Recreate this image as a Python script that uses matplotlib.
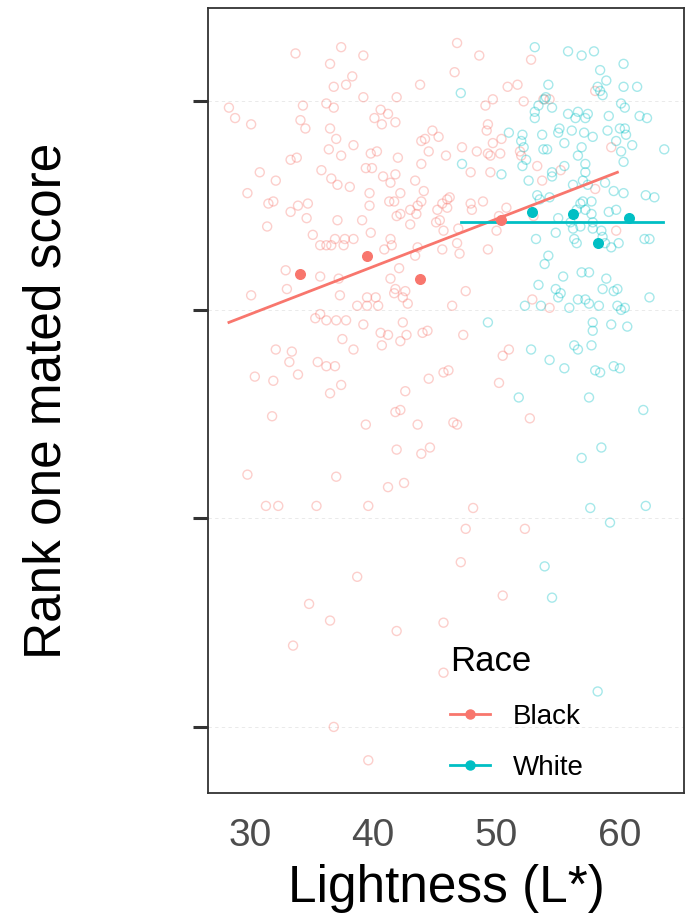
import matplotlib
matplotlib.use("Agg")
import matplotlib.pyplot as plt
from matplotlib.lines import Line2D

plt.rcParams['font.family'] = ['Liberation Sans', 'DejaVu Sans']

PINK = "#F8766D"
TEAL = "#00BFC4"

# individual subjects: lightness vs rank one mated score
black_x = [33.7, 37.4, 39.2, 36.5, 38.3, 37.8, 36.8, 43.8, 39.2, 41.9,
           28.3, 28.8, 30.1, 34.3, 36.2, 36.8, 40.6, 41.2, 40.1, 40.7,
           41.8, 34.1, 34.5, 36.5, 37.0, 36.4, 38.4, 37.4, 44.8, 45.3,
           43.9, 44.2, 44.5, 45.9, 39.8, 40.3, 42.0, 33.3, 33.8, 30.8,
           32.1, 29.8, 35.8, 39.4, 39.9, 36.6, 37.1, 38.1, 40.8, 41.8,
           41.4, 43.9, 43.4, 44.1, 39.7, 42.2, 31.5, 31.9, 33.3, 33.9,
           34.7, 34.6, 31.4, 39.7, 41.3, 41.7, 43.9, 43.6, 43.0, 41.9,
           42.2, 43.5, 43.0, 37.1, 39.1, 45.2, 45.6, 46.0, 46.0, 45.4,
           45.1, 35.1, 35.7, 36.2, 36.6, 36.9, 37.7, 37.6, 38.4, 39.8,
           41.4, 41.5, 40.9, 43.6, 43.4, 45.6, 32.9, 35.7, 42.1, 41.4,
           37.2,
           46.8, 48.6, 52.8, 46.6, 50.9, 51.7, 49.7, 49.1, 52.2, 53.8,
           54.3, 58.0, 49.3, 49.2, 49.7, 50.4, 47.2, 48.4, 49.3, 49.5,
           50.3, 51.9, 52.0, 47.9, 49.5, 53.3, 53.7, 55.2, 58.0, 59.3,
           46.2, 47.9, 48.0, 48.9, 50.8, 50.2, 50.0, 46.9, 47.0, 46.8,
           49.3, 53.0, 59.7, 45.7,
           30.1, 33.0, 37.3, 38.7, 39.5, 39.5, 40.2, 40.4, 41.7, 41.8,
           42.6, 42.4, 42.8, 35.3, 35.7, 36.2, 37.0, 37.8, 39.2, 42.4,
           40.6, 41.2, 40.7, 42.2, 42.7, 44.0, 44.4, 37.5, 38.4, 32.1,
           33.4, 33.2, 35.5, 36.2, 36.9, 30.4, 31.9, 33.9, 37.4, 36.5,
           42.6, 44.5, 45.7, 46.1, 31.8, 39.4, 41.8, 42.2, 43.6, 41.9,
           43.9, 44.6, 29.8, 37.0, 41.2, 42.5, 31.3, 32.3, 35.4, 39.6,
           38.7,
           47.5, 46.4, 52.9, 54.3, 47.3, 50.5, 51.0, 50.2, 46.5, 46.8,
           52.7, 48.1, 47.5, 52.3, 47.1,
           34.8, 36.5, 41.9, 45.7, 50.5, 33.5, 45.7, 36.8, 39.6]
black_y = [0.923, 0.926, 0.922, 0.918, 0.912, 0.908, 0.907, 0.908, 0.902, 0.902,
           0.897, 0.892, 0.889, 0.898, 0.899, 0.897, 0.896, 0.894, 0.892, 0.889,
           0.890, 0.891, 0.887, 0.887, 0.882, 0.877, 0.879, 0.874, 0.886, 0.883,
           0.881, 0.882, 0.876, 0.874, 0.875, 0.876, 0.873, 0.872, 0.873, 0.866,
           0.862, 0.856, 0.867, 0.868, 0.868, 0.863, 0.860, 0.859, 0.864, 0.865,
           0.861, 0.870, 0.862, 0.857, 0.856, 0.856, 0.851, 0.852, 0.847, 0.850,
           0.851, 0.844, 0.840, 0.850, 0.852, 0.852, 0.852, 0.850, 0.848, 0.845,
           0.846, 0.846, 0.841, 0.843, 0.843, 0.848, 0.851, 0.853, 0.849, 0.843,
           0.842, 0.836, 0.831, 0.831, 0.831, 0.834, 0.834, 0.831, 0.834, 0.837,
           0.834, 0.831, 0.829, 0.830, 0.826, 0.829, 0.819, 0.816, 0.820, 0.815,
           0.815,
           0.928, 0.922, 0.920, 0.914, 0.907, 0.908, 0.901, 0.898, 0.900, 0.901,
           0.901, 0.905, 0.889, 0.886, 0.880, 0.882, 0.878, 0.876, 0.875, 0.874,
           0.875, 0.876, 0.874, 0.866, 0.866, 0.869, 0.862, 0.867, 0.858, 0.878,
           0.854, 0.851, 0.848, 0.852, 0.849, 0.845, 0.838, 0.839, 0.827, 0.832,
           0.829, 0.845, 0.838, 0.838,
           0.807, 0.810, 0.807, 0.802, 0.802, 0.806, 0.806, 0.802, 0.808, 0.810,
           0.809, 0.806, 0.803, 0.796, 0.798, 0.795, 0.795, 0.795, 0.793, 0.794,
           0.789, 0.788, 0.783, 0.785, 0.788, 0.789, 0.790, 0.786, 0.781, 0.781,
           0.780, 0.775, 0.775, 0.773, 0.773, 0.768, 0.766, 0.769, 0.764, 0.760,
           0.761, 0.767, 0.770, 0.771, 0.749, 0.745, 0.751, 0.752, 0.745, 0.733,
           0.731, 0.734, 0.721, 0.720, 0.715, 0.717, 0.706, 0.706, 0.706, 0.706,
           0.672,
           0.809, 0.802, 0.805, 0.801, 0.788, 0.778, 0.781, 0.765, 0.746, 0.745,
           0.748, 0.705, 0.695, 0.695, 0.679,
           0.659, 0.651, 0.646, 0.650, 0.663, 0.639, 0.626, 0.600, 0.584]

white_x = [53.1, 55.8, 56.9, 57.9, 58.4, 60.3, 58.9, 54.2, 58.2, 58.4,
           58.6, 60.3, 61.4, 47.1, 54.0, 53.9, 53.4, 53.1, 54.5, 53.1,
           55.8, 56.6, 56.4, 57.2, 57.4, 59.1, 60.1, 60.4, 61.6, 62.2,
           55.1, 55.0, 56.1, 57.1, 57.8, 59.0, 60.0, 60.4, 60.5, 51.0,
           52.1, 52.0, 52.2, 53.7, 55.5, 53.8, 54.1, 56.9, 56.6, 57.2,
           59.7, 60.1, 61.0, 60.3, 63.6, 47.2, 50.4, 52.4, 52.1, 52.6,
           54.5, 54.5, 55.5, 56.2, 57.2, 57.0, 57.4, 58.8, 59.5, 60.3,
           62.1, 62.8, 53.3, 53.5, 54.3, 56.8, 57.0, 57.7, 56.5, 57.2,
           57.7, 59.1, 59.7, 55.0, 56.0, 56.2, 56.8, 57.8, 57.8, 58.5,
           58.6, 53.2, 54.8, 56.3, 56.5, 58.8, 59.3, 59.9, 62.0, 62.4,
           54.2, 53.9, 55.4, 56.9, 57.5, 58.9,
           53.4, 54.8, 55.2, 55.0, 58.6, 59.5, 59.8, 62.4, 52.3, 53.6,
           55.9, 56.6, 57.2, 57.5, 58.3, 59.8, 60.1, 60.4, 49.3, 57.8,
           57.8, 59.3, 60.6, 52.8, 56.3, 56.6, 57.7, 54.3, 55.5, 58.0,
           58.4, 59.5, 60.0, 51.8, 57.5, 61.9, 58.5, 56.9, 57.6, 62.1,
           59.2, 53.9,
           54.5, 58.2]
white_y = [0.926, 0.924, 0.922, 0.924, 0.915, 0.918, 0.910, 0.908, 0.907, 0.905,
           0.903, 0.907, 0.907, 0.904, 0.902, 0.901, 0.898, 0.895, 0.897, 0.892,
           0.894, 0.895, 0.892, 0.892, 0.894, 0.893, 0.899, 0.897, 0.893, 0.892,
           0.887, 0.885, 0.886, 0.885, 0.883, 0.886, 0.887, 0.887, 0.884, 0.885,
           0.884, 0.881, 0.878, 0.884, 0.880, 0.877, 0.877, 0.878, 0.874, 0.870,
           0.881, 0.876, 0.879, 0.871, 0.877, 0.870, 0.865, 0.872, 0.869, 0.862,
           0.864, 0.866, 0.869, 0.860, 0.866, 0.862, 0.860, 0.861, 0.857, 0.856,
           0.855, 0.854, 0.855, 0.853, 0.854, 0.851, 0.852, 0.852, 0.848, 0.848,
           0.846, 0.847, 0.848, 0.844, 0.842, 0.839, 0.840, 0.842, 0.839, 0.838,
           0.835, 0.834, 0.837, 0.834, 0.832, 0.832, 0.830, 0.832, 0.834, 0.834,
           0.826, 0.822, 0.816, 0.818, 0.818, 0.815,
           0.812, 0.810, 0.808, 0.806, 0.810, 0.809, 0.810, 0.806, 0.802, 0.802,
           0.801, 0.805, 0.805, 0.803, 0.802, 0.802, 0.800, 0.801, 0.794, 0.794,
           0.790, 0.793, 0.792, 0.781, 0.783, 0.781, 0.783, 0.776, 0.772, 0.771,
           0.770, 0.773, 0.772, 0.758, 0.758, 0.752, 0.734, 0.729, 0.705, 0.706,
           0.698, 0.677,
           0.662, 0.617]

# binned group means
black_mean_x = [34.1, 39.5, 43.8, 50.4]
black_mean_y = [0.817, 0.826, 0.815, 0.843]
white_mean_x = [52.9, 56.2, 58.2, 60.7]
white_mean_y = [0.847, 0.846, 0.832, 0.844]

# fitted lines (endpoints)
black_fit_x = [28.3, 59.8]
black_fit_y = [0.794, 0.866]
white_fit_x = [47.1, 63.5]
white_fit_y = [0.842, 0.842]

y_ticks = [0.6, 0.7, 0.8, 0.9]
x_ticks = [30, 40, 50, 60]

fig = plt.figure(figsize=(6.9, 9.17), dpi=100)
ax = fig.add_axes([0.3014, 0.1352, 0.6899, 0.8561])

ax.scatter(black_x, black_y, s=42, facecolors="none", edgecolors=PINK,
           linewidths=1.0, alpha=0.35, zorder=2)
ax.scatter(white_x, white_y, s=42, facecolors="none", edgecolors=TEAL,
           linewidths=1.0, alpha=0.35, zorder=2)

ax.plot(black_fit_x, black_fit_y, color=PINK, lw=2, zorder=3)
ax.plot(white_fit_x, white_fit_y, color=TEAL, lw=2, zorder=3)
ax.scatter(black_mean_x, black_mean_y, s=48, color=PINK, zorder=4)
ax.scatter(white_mean_x, white_mean_y, s=48, color=TEAL, zorder=4)

ax.set_xlim(26.6, 65.2)
ax.set_ylim(0.5683, 0.9448)
ax.set_xticks(x_ticks)
ax.set_yticks(y_ticks)
ax.set_yticklabels([])
ax.tick_params(axis="x", length=0, labelsize=28, labelcolor="#4D4D4D", pad=18)
ax.tick_params(axis="y", length=11, width=2.2, color="#333333")
ax.grid(axis="y", color="#E6E6E6", linestyle=(0, (4, 4)), linewidth=0.6)
ax.set_axisbelow(True)
for sp in ax.spines.values():
    sp.set_color("#333333")
    sp.set_linewidth(1.3)

ax.set_xlabel("Lightness (L*)", fontsize=37)
ax.xaxis.set_label_coords(0.5, -0.091)
ax.set_ylabel("Rank one mated score", fontsize=37)
ax.yaxis.set_label_coords(-0.286, 0.5)

handles = [Line2D([], [], color=PINK, lw=2, marker="o", markersize=6.5),
           Line2D([], [], color=TEAL, lw=2, marker="o", markersize=6.5)]
leg = ax.legend(handles, ["Black", "White"], title="Race", loc="upper left",
                bbox_to_anchor=(450 / 690, (917 - 645) / 917),
                bbox_transform=fig.transFigure, borderpad=0, borderaxespad=0,
                frameon=False, fontsize=20, title_fontsize=25,
                handlelength=1.45, labelspacing=0.92, handletextpad=0.8)
leg._legend_box.align = "left"

fig.savefig("out.png", dpi=100)
